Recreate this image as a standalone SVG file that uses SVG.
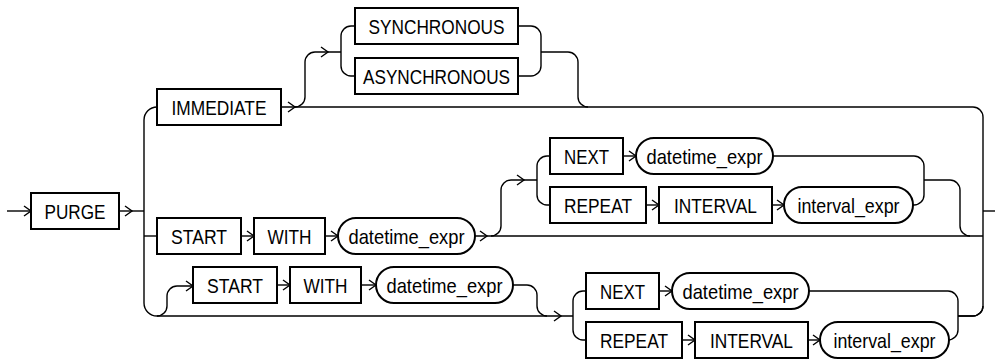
<svg xmlns="http://www.w3.org/2000/svg" xmlns:xlink="http://www.w3.org/1999/xlink" width="1000" height="360" viewBox="0 0 1000 360">
<style>
.b{fill:#fff;stroke:#000;stroke-width:2}
.c{fill:none;stroke:#000;stroke-width:1.4}
.t{font-family:"Liberation Sans",Arial,sans-serif;font-size:21px;fill:#000;text-anchor:middle}
</style>
<defs>
<path id="ah" d="M-7,-5 L0,0 L-7,5" fill="none" stroke="#000" stroke-width="1.4"/>
</defs>
<rect width="1000" height="360" fill="#fff"/>
<g id="connectors" class="c">
<path d="M7,211 H31"/>
<path d="M119,211 H144"/>
<path d="M157,107 A13,13 0 0 0 144,120 V303 A13,13 0 0 0 157,316 H573"/>
<path d="M144,236 H157"/>
<path d="M281,107 H973 A10,10 0 0 1 983,117 V306 A10,10 0 0 1 973,316 H958"/>
<path d="M983,211 H995"/>
<path d="M295,107 A10,10 0 0 0 305,97 V62 A10,10 0 0 1 315,52 H341"/>
<path d="M355,26 H351 A10,10 0 0 0 341,36 V66 A10,10 0 0 0 351,76 H355"/>
<path d="M518,26 H531 A10,10 0 0 1 541,36 V66 A10,10 0 0 1 531,76 H518"/>
<path d="M541,52 H568 A10,10 0 0 1 578,62 V97 A10,10 0 0 0 588,107"/>
<path d="M241,236 H254"/>
<path d="M325,236 H338"/>
<path d="M475,236 H983"/>
<path d="M491,236 A10,10 0 0 0 501,226 V190 A10,10 0 0 1 511,180 H537"/>
<path d="M550,156 H547 A10,10 0 0 0 537,166 V195 A10,10 0 0 0 547,205 H550"/>
<path d="M623,156 H636"/>
<path d="M773,156 H914 A10,10 0 0 1 924,166 V195 A10,10 0 0 1 914,205 H913"/>
<path d="M646,205 H659"/>
<path d="M772,205 H784"/>
<path d="M924,180 H950 A10,10 0 0 1 960,190 V226 A10,10 0 0 0 970,236"/>
<path d="M157,316 A10,10 0 0 0 167,306 V296 A10,10 0 0 1 177,286 H193"/>
<path d="M277,285 H290"/>
<path d="M361,285 H376"/>
<path d="M513,285 H527 A10,10 0 0 1 537,295 V306 A10,10 0 0 0 547,316"/>
<path d="M586,291 H583 A10,10 0 0 0 573,301 V330 A10,10 0 0 0 583,340 H586"/>
<path d="M659,291 H672"/>
<path d="M809,291 H948 A10,10 0 0 1 958,301 V330 A10,10 0 0 1 948,340 H949"/>
<path d="M682,340 H695"/>
<path d="M808,340 H820"/>
<path d="M958,316 H973 A10,10 0 0 0 983,306"/>
<use xlink:href="#ah" x="31" y="211"/>
<use xlink:href="#ah" x="132" y="211"/>
<use xlink:href="#ah" x="295" y="107"/>
<use xlink:href="#ah" x="328" y="52"/>
<use xlink:href="#ah" x="254" y="236"/>
<use xlink:href="#ah" x="338" y="236"/>
<use xlink:href="#ah" x="487" y="236"/>
<use xlink:href="#ah" x="524" y="180"/>
<use xlink:href="#ah" x="636" y="156"/>
<use xlink:href="#ah" x="659" y="205"/>
<use xlink:href="#ah" x="784" y="205"/>
<use xlink:href="#ah" x="193" y="286"/>
<use xlink:href="#ah" x="290" y="285"/>
<use xlink:href="#ah" x="376" y="285"/>
<use xlink:href="#ah" x="561" y="316"/>
<use xlink:href="#ah" x="672" y="291"/>
<use xlink:href="#ah" x="695" y="340"/>
<use xlink:href="#ah" x="820" y="340"/>
</g>
<g id="purge"><rect class="b" x="31" y="193" width="88" height="36"/><text class="t" x="75" y="218.5" textLength="61" lengthAdjust="spacingAndGlyphs">PURGE</text></g>
<g id="immediate"><rect class="b" x="157" y="89" width="124" height="36"/><text class="t" x="219" y="114.5" textLength="95" lengthAdjust="spacingAndGlyphs">IMMEDIATE</text></g>
<g id="synchronous"><rect class="b" x="355" y="8" width="163" height="36"/><text class="t" x="436.5" y="33.5" textLength="136" lengthAdjust="spacingAndGlyphs">SYNCHRONOUS</text></g>
<g id="asynchronous"><rect class="b" x="355" y="58" width="163" height="36"/><text class="t" x="436.5" y="83.5" textLength="147" lengthAdjust="spacingAndGlyphs">ASYNCHRONOUS</text></g>
<g id="start1"><rect class="b" x="157" y="218" width="84" height="36"/><text class="t" x="199" y="243.5" textLength="56" lengthAdjust="spacingAndGlyphs">START</text></g>
<g id="with1"><rect class="b" x="254" y="218" width="71" height="36"/><text class="t" x="289.5" y="243.5" textLength="44" lengthAdjust="spacingAndGlyphs">WITH</text></g>
<g id="datetime1"><rect class="b" x="338" y="218" width="137" height="36" rx="18"/><text class="t" x="406.5" y="243.5" textLength="116" lengthAdjust="spacingAndGlyphs">datetime_expr</text></g>
<g id="next1"><rect class="b" x="550" y="138" width="73" height="36"/><text class="t" x="586.5" y="163.5" textLength="45" lengthAdjust="spacingAndGlyphs">NEXT</text></g>
<g id="datetime2"><rect class="b" x="636" y="138" width="137" height="36" rx="18"/><text class="t" x="704.5" y="163.5" textLength="116" lengthAdjust="spacingAndGlyphs">datetime_expr</text></g>
<g id="repeat1"><rect class="b" x="550" y="187" width="96" height="36"/><text class="t" x="598" y="212.5" textLength="68" lengthAdjust="spacingAndGlyphs">REPEAT</text></g>
<g id="interval1"><rect class="b" x="659" y="187" width="113" height="36"/><text class="t" x="715.5" y="212.5" textLength="83" lengthAdjust="spacingAndGlyphs">INTERVAL</text></g>
<g id="intervalexpr1"><rect class="b" x="784" y="187" width="129" height="36" rx="18"/><text class="t" x="848.5" y="212.5" textLength="102" lengthAdjust="spacingAndGlyphs">interval_expr</text></g>
<g id="start2"><rect class="b" x="193" y="267" width="84" height="36"/><text class="t" x="235" y="292.5" textLength="56" lengthAdjust="spacingAndGlyphs">START</text></g>
<g id="with2"><rect class="b" x="290" y="267" width="71" height="36"/><text class="t" x="325.5" y="292.5" textLength="44" lengthAdjust="spacingAndGlyphs">WITH</text></g>
<g id="datetime3"><rect class="b" x="376" y="267" width="137" height="36" rx="18"/><text class="t" x="444.5" y="292.5" textLength="116" lengthAdjust="spacingAndGlyphs">datetime_expr</text></g>
<g id="next2"><rect class="b" x="586" y="273" width="73" height="36"/><text class="t" x="622.5" y="298.5" textLength="45" lengthAdjust="spacingAndGlyphs">NEXT</text></g>
<g id="datetime4"><rect class="b" x="672" y="273" width="137" height="36" rx="18"/><text class="t" x="740.5" y="298.5" textLength="116" lengthAdjust="spacingAndGlyphs">datetime_expr</text></g>
<g id="repeat2"><rect class="b" x="586" y="322" width="96" height="36"/><text class="t" x="634" y="347.5" textLength="68" lengthAdjust="spacingAndGlyphs">REPEAT</text></g>
<g id="interval2"><rect class="b" x="695" y="322" width="113" height="36"/><text class="t" x="751.5" y="347.5" textLength="83" lengthAdjust="spacingAndGlyphs">INTERVAL</text></g>
<g id="intervalexpr2"><rect class="b" x="820" y="322" width="129" height="36" rx="18"/><text class="t" x="884.5" y="347.5" textLength="102" lengthAdjust="spacingAndGlyphs">interval_expr</text></g>
</svg>
